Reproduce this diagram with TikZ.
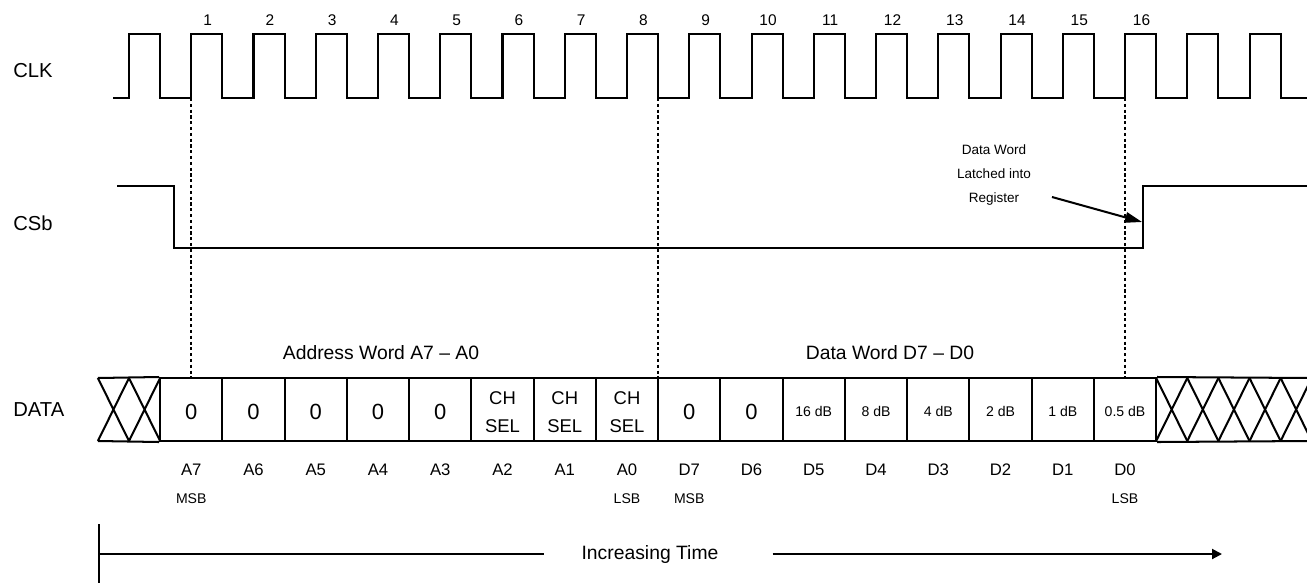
\documentclass[tikz,border=0pt]{standalone}
\usepackage{fontspec}
\setmainfont{Liberation Sans}
\usetikzlibrary{positioning,arrows.meta}

\begin{document}
\begin{tikzpicture}[
  x=0.02cm, y=-0.02cm,
  font=\fontsize{11}{13}\selectfont,
  >={Triangle[length=2mm,width=2mm]},
  wave/.style={line width=1.15pt,line join=miter},
  guide/.style={line width=1.2pt,dash pattern=on 1.8pt off 1.5pt},
  cell/.style={draw,line width=1.15pt,minimum width=1.245cm,minimum height=1.26cm,inner sep=0pt},
  zero/.style={font=\fontsize{12.5}{15}\selectfont},
  sel/.style={font=\fontsize{10.5}{16}\selectfont,align=center},
  gain/.style={font=\fontsize{8}{9.6}\selectfont},
  sig/.style={anchor=west,inner sep=0pt,font=\fontsize{11.5}{13}\selectfont},
  tick/.style={font=\fontsize{8.8}{10.5}\selectfont},
  bitlbl/.style={font=\fontsize{9.5}{11}\selectfont},
  sub/.style={font=\fontsize{8}{9.6}\selectfont},
  note/.style={font=\fontsize{7.7}{13.7}\selectfont,align=center},
  pointer/.style={-{Triangle[length=3.4mm,width=2.1mm]},line width=1.15pt},
  timeline/.style={line width=1.15pt},
]
\fill[white] (0,0) rectangle (1307,582);
\useasboundingbox (0,0) rectangle (1307,582);
\clip (0,0) rectangle (1307,582);

%------------------------------------------------------------ signal names ---
\node[sig] (clk)  at (13,71)  {CLK};
\node[sig] (csb)  at (13,223) {CSb};
\node[sig] (data) at (13,410) {DATA};

%------------------------------------------------------------------- clock ---
\draw[wave] (113,98)
  foreach \k in {0,...,18}{ -- ({129+62.25*\k},98) -- ++(0,-64) -- ++(31.125,0) -- ++(0,64) }
  -- (1307,98);
\foreach \k in {1,...,16}{
  \pgfmathsetmacro{\xx}{129+62.25*\k+16.5}
  \node[tick] (n\k) at (\xx,20) {\k};
}

%--------------------------------------------------------------------- CSb ---
\draw[wave] (117,186) -- (174,186) -- (174,248) -- (1143,248) -- (1143,186) -- (1307,186);

%-------------------------------------------------------------- data word ---
\foreach \i/\bit in {1/A7,2/A6,3/A5,4/A4,5/A3,6/A2,7/A1,8/A0,
                     9/D7,10/D6,11/D5,12/D4,13/D3,14/D2,15/D1,16/D0}{
  \pgfmathsetmacro{\xx}{129+62.25*\i}
  \node[cell] (c\i) at (\xx,409.5) {};
  \node[bitlbl] (b\i) at (\xx,470) {\bit};
}
\foreach \i in {1,2,3,4,5,9,10}{\node[zero] (v\i) at ([yshift=-0.04cm]c\i) {0};}
\foreach \i in {6,7,8}{\node[sel] (v\i) at ([yshift=-0.05cm]c\i) {CH\\SEL};}
\foreach \i/\g in {11/16,12/8,13/4,14/2,15/1,16/0.5}{\node[gain] (v\i) at ([yshift=-0.03cm]c\i) {\g{} dB};}
\foreach \i/\s in {1/MSB,8/LSB,9/MSB,16/LSB}{\node[sub] (s\i) at (b\i |- 0,499) {\s};}

% don't care before and after
\foreach \a in {0,1}{
  \pgfmathsetmacro{\xa}{97.875+\a*31.125}
  \draw[wave] (\xa,378) -- ++(31.125,63) (\xa,441) -- ++(31.125,-63);
}
\draw[wave] (97.875,378) -- (c1.north west) (97.875,441) -- (c1.south west);
\foreach \a in {0,...,4}{
  \pgfmathsetmacro{\xa}{1156.125+\a*31.125}
  \draw[wave] (\xa,378) -- ++(31.125,63) (\xa,441) -- ++(31.125,-63);
}
\draw[wave] (c16.north east) -- (1310,378) (c16.south east) -- (1310,441);

\node (addrw) at (381,353) {Address Word A7 \textendash{} A0};
\node (dataw) at (890,353) {Data Word D7 \textendash{} D0};

%------------------------------------------------------------------ guides ---
\foreach \x in {191.25,658.125,1125}{\draw[guide] (\x,98) -- (\x,378);}

%------------------------------------------------------------------- latch ---
\node[note] (latchnote) at (994,175) {Data Word\\Latched into\\Register};
\coordinate (tail) at (1052,197);
\coordinate (csup) at (1142,222);
\draw[pointer] (tail) -- (csup);

%-------------------------------------------------------------------- time ---
\coordinate (t0) at (99,554);
\coordinate (tend) at (1222,554);
\node (inctime) at (650,554) {Increasing Time};
\draw[timeline] (t0) ++(0,-30) -- ++(0,60);
\draw[timeline,shorten >=0.62cm] (t0) -- (inctime.west);
\draw[timeline,->,shorten <=0.96cm] (inctime.east) -- (tend);

\end{tikzpicture}
\end{document}
